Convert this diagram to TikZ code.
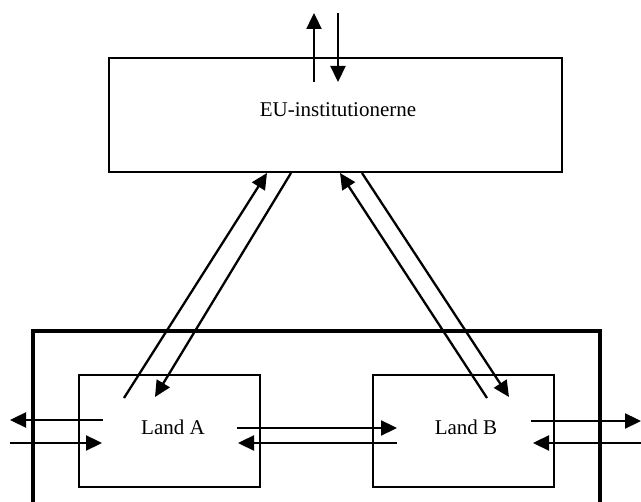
\documentclass[tikz,border=0pt]{standalone}
\usepackage{fontspec}
\setmainfont{Liberation Serif}
\usetikzlibrary{arrows.meta,calc}

\begin{document}
\begin{tikzpicture}[x=1pt,y=-1pt]
\clip (0,0) rectangle (641,502);
\begin{scope}[box/.style={rectangle,draw,line width=2pt},
    txt/.style={font=\fontsize{21}{25}\selectfont},
    flow/.style={line width=2.3pt,-{Triangle[length=16pt,width=15pt]}}]

    % the frame round the two countries, open at the bottom
    \draw [line width=4.5pt] (33,510) |- (600,331) -- (600,510);

    \node [box, minimum width=453pt, minimum height=114pt] (eu) at (335.5,115) {};
    \node [box, minimum width=181pt, minimum height=112pt] (landA) at (169.5,431) {};
    \node [box, minimum width=181pt, minimum height=112pt] (landB) at (463.5,431) {};

    \node [txt] (eutxt) at ($(eu)+(2.5,-5)$) {EU-institutionerne};
    \node [txt] (atxt) at ($(landA)+(3.5,-4)$) {Land A};
    \node [txt] (btxt) at ($(landB)+(2.5,-4)$) {Land B};

    \coordinate (outL1) at (10,420);
    \coordinate (outL2) at (10,443);
    \coordinate (outR1) at (641,421);
    \coordinate (outR2) at (641,443);
    \coordinate (top1) at (314,13);
    \coordinate (top2) at (338,13);

    \draw [flow] ($(eu)+(-21.5,-33)$) -- (top1);
    \draw [flow] (top2) -- ($(eu)+(2.5,-33)$);

    \draw [flow] ($(landA)+(-45.5,-33)$) -- ([xshift=-68.5pt]eu.south);
    \draw [flow] ([xshift=-44.5pt]eu.south) -- ($(landA)+(-14.5,-34)$);
    \draw [flow] ($(landB)+(23.5,-33)$) -- ([xshift=4.5pt]eu.south);
    \draw [flow] ([xshift=26.5pt]eu.south) -- ($(landB)+(45.5,-34)$);

    \draw [flow] ($(landA)+(67.5,-3)$) -- ($(landB)+(-66.5,-3)$);
    \draw [flow] ($(landB)+(-66.5,12)$) -- ($(landA)+(68.5,12)$);

    \draw [flow] ($(landA)+(-66.5,-11)$) -- (outL1);
    \draw [flow] (outL2) -- ($(landA)+(-67.5,12)$);
    \draw [flow] ($(landB)+(67.5,-10)$) -- (outR1);
    \draw [flow] (outR2) -- ($(landB)+(69.5,12)$);

\end{scope}
\end{tikzpicture}
\end{document}
